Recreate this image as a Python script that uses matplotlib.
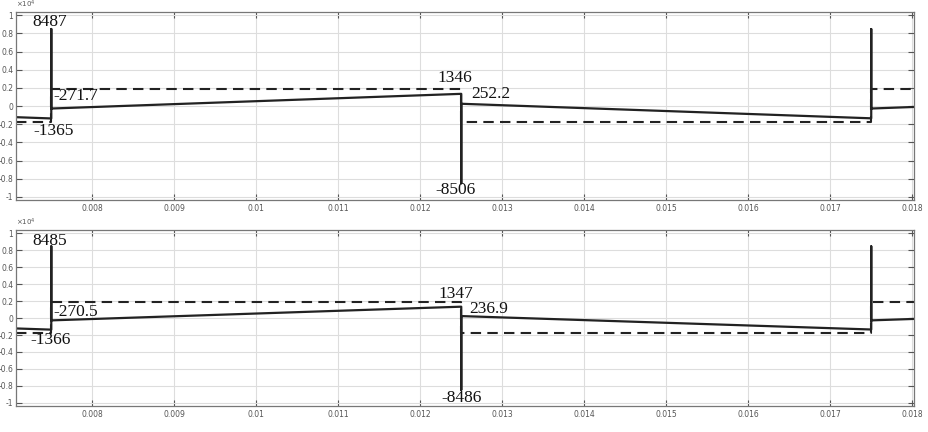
import numpy as np
import matplotlib.pyplot as plt
from matplotlib.ticker import FixedLocator, FuncFormatter

# ----- Data ----- #
x_lim = (0.0070695, 0.018021)

# upper panel
t_solid_a = [0.0070695, 0.0075, 0.0075, 0.0075, 0.0125, 0.0125, 0.0125, 0.0175, 0.0175, 0.0175, 0.018021]
v_solid_a = [-1225, -1365, 8487, -271.7, 1346, -8506, 252.2, -1350, 8480, -271.7, -100]
t_dash_a = [0.0070695, 0.0075, 0.0075, 0.0125, 0.0125, 0.0175, 0.0175, 0.018021]
v_dash_a = [-1770, -1770, 1880, 1880, -1760, -1760, 1880, 1880]

# lower panel
t_solid_b = [0.0070695, 0.0075, 0.0075, 0.0075, 0.0125, 0.0125, 0.0125, 0.0175, 0.0175, 0.0175, 0.018021]
v_solid_b = [-1225, -1366, 8485, -270.5, 1347, -8486, 236.9, -1350, 8480, -270.5, -100]
t_dash_b = [0.0070695, 0.0075, 0.0075, 0.0125, 0.0125, 0.0175, 0.0175, 0.018021]
v_dash_b = [-1820, -1820, 1930, 1930, -1780, -1780, 1930, 1930]

# annotations: (text, x, y)
notes_a = [("8487", 0.007275, 9300), ("-271.7", 0.00752, 1070), ("-1365", 0.00728, -2800),
           ("1346", 0.012207, 3100), ("252.2", 0.012622, 1300), ("-8506", 0.012183, -9300)]
notes_b = [("8485", 0.007275, 9100), ("-270.5", 0.007524, 750), ("-1366", 0.007244, -2600),
           ("1347", 0.012219, 2900), ("236.9", 0.012597, 1050), ("-8486", 0.012256, -9400)]

x_ticks = np.round(np.arange(0.008, 0.0181, 0.001), 3)
y_ticks = np.round(np.arange(-1, 1.01, 0.2), 1) * 1e4

# ----- Figure ----- #
fig = plt.figure(figsize=(9.29, 4.32), dpi=100)
ax_a = fig.add_axes([0.0172, 0.537, 0.9666, 0.435])
ax_b = fig.add_axes([0.0172, 0.060, 0.9666, 0.4074])


def y_fmt(v, p):
    return f'{round(v / 1e4, 1) + 0.0:g}'


def setup(ax, ylim):
    ax.set_xlim(*x_lim)
    ax.set_ylim(-ylim, ylim)
    ax.xaxis.set_major_locator(FixedLocator(x_ticks))
    ax.yaxis.set_major_locator(FixedLocator(y_ticks))
    ax.xaxis.set_major_formatter(FuncFormatter(lambda v, p: f'{round(v, 3):g}'))
    ax.yaxis.set_major_formatter(FuncFormatter(y_fmt))
    ax.tick_params(direction='in', top=True, right=True, length=4, width=0.8,
                   color='#555555', labelsize=5.5, labelcolor='#555555', pad=2)
    ax.tick_params(axis='x', pad=3)
    ax.grid(True, color='#dddddd', lw=0.8)
    ax.set_axisbelow(True)
    for s in ax.spines.values():
        s.set_color('#777777')
        s.set_linewidth(0.9)
    ax.text(0.0, 1.012, r'$\times10^4$', transform=ax.transAxes, fontsize=5,
            color='#555555', ha='left', va='bottom')


def draw(ax, ts, vs, td, vd, notes):
    ax.plot(td, vd, color='#222222', lw=1.5, ls=(0, (5, 3)))
    ax.plot(ts, vs, color='#222222', lw=1.6)
    for txt, x, y in notes:
        ax.text(x, y, txt, fontsize=12.5, family='Liberation Serif', color='#111111',
                ha='left', va='center')


setup(ax_a, 10350)
draw(ax_a, t_solid_a, v_solid_a, t_dash_a, v_dash_a, notes_a)
setup(ax_b, 10400)
draw(ax_b, t_solid_b, v_solid_b, t_dash_b, v_dash_b, notes_b)

fig.savefig('out.png', dpi=100)
